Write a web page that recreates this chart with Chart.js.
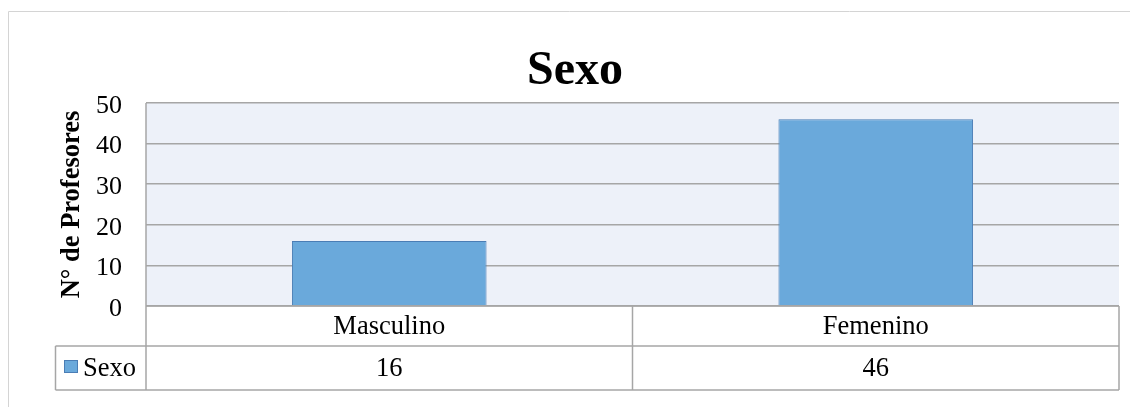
<!DOCTYPE html>
<html>
<head>
<meta charset="utf-8">
<script src="https://cdn.jsdelivr.net/npm/chart.js@4"></script>
<style>
  html, body { margin: 0; padding: 0; background: #fff; }
</style>
</head>
<body>
<canvas id="sexoChart" width="1130" height="407"></canvas>
<script>
// data
const categories = ["Masculino", "Femenino"]
const seriesName = "Sexo"
const seriesValues = [16, 46]
const yMin = 0
const yMax = 50
const yStep = 10
const chartTitle = "Sexo"

const serif = "'Liberation Serif', 'Times New Roman', serif"
const gridGray = "#a6a6a6"

// plot background, outer frame, title and the data table under the bars
const tablePlugin = {
  id: "dataTable",
  beforeDraw(chart) {
    const {ctx, chartArea: a} = chart
    ctx.save()
    ctx.fillStyle = "#edf1f9"
    ctx.fillRect(a.left, a.top, a.right - a.left, a.bottom - a.top)
    // outer frame
    ctx.strokeStyle = "#d4d4d4"
    ctx.lineWidth = 1
    ctx.beginPath()
    ctx.moveTo(8.5, 407)
    ctx.lineTo(8.5, 11.5)
    ctx.lineTo(1130, 11.5)
    ctx.stroke()
    // title, centred on the whole chart box like Excel does
    ctx.fillStyle = "#000"
    ctx.font = "bold 48px " + serif
    ctx.textAlign = "center"
    ctx.textBaseline = "alphabetic"
    ctx.fillText(chartTitle, 575, 84)
    ctx.restore()
  },
  afterDraw(chart) {
    const {ctx, chartArea: a} = chart
    const x = chart.scales.x
    const row1 = a.bottom + 40
    const row2 = row1 + 44
    const legendLeft = 55.5
    ctx.save()
    ctx.strokeStyle = gridGray
    ctx.lineWidth = 1.5
    ctx.beginPath()
    // top of table (axis line)
    ctx.moveTo(a.left, a.bottom); ctx.lineTo(a.right, a.bottom)
    // row lines
    ctx.moveTo(legendLeft, row1); ctx.lineTo(a.right, row1)
    ctx.moveTo(legendLeft, row2); ctx.lineTo(a.right, row2)
    // verticals
    ctx.moveTo(legendLeft, row1); ctx.lineTo(legendLeft, row2)
    ctx.moveTo(a.left, a.top); ctx.lineTo(a.left, row2)
    ctx.moveTo(a.right, a.bottom); ctx.lineTo(a.right, row2)
    for (let i = 0; i < categories.length - 1; i++) {
      const mid = (x.getPixelForValue(i) + x.getPixelForValue(i + 1)) / 2
      ctx.moveTo(mid, a.bottom); ctx.lineTo(mid, row2)
    }
    ctx.stroke()

    ctx.fillStyle = "#000"
    ctx.font = "26.5px " + serif
    ctx.textAlign = "center"
    ctx.textBaseline = "middle"
    categories.forEach((c, i) => {
      const cx = x.getPixelForValue(i)
      ctx.fillText(c, cx, (a.bottom + row1) / 2 + 1)
      ctx.fillText(String(seriesValues[i]), cx, (row1 + row2) / 2 + 1)
    })
    // legend key
    const ds = chart.data.datasets[0]
    ctx.fillStyle = ds.backgroundColor
    ctx.fillRect(64, 360, 14, 13)
    ctx.strokeStyle = ds.borderColor
    ctx.lineWidth = 1
    ctx.strokeRect(64.5, 360.5, 13, 12)
    ctx.fillStyle = "#000"
    ctx.textAlign = "left"
    ctx.fillText(seriesName, 83, (row1 + row2) / 2 + 1)
    ctx.restore()
  }
}

const ctx = document.getElementById("sexoChart").getContext("2d")
new Chart(ctx, {
  type: "bar",
  data: {
    labels: categories,
    datasets: [{
      label: seriesName,
      data: seriesValues,
      backgroundColor: "#6aa9db",
      borderColor: "#4a7db5",
      borderWidth: 1,
      barPercentage: 0.5,
      categoryPercentage: 0.8,
    }],
  },
  options: {
    responsive: false,
    animation: false,
    devicePixelRatio: 1,
    layout: { padding: { left: 0, right: 11, top: 103, bottom: 0 } },
    plugins: {
      legend: { display: false },
      tooltip: { enabled: false },
      title: { display: false },
    },
    scales: {
      x: {
        grid: { display: false },
        border: { display: false },
        ticks: { display: false },
        afterFit: (s) => { s.height = 101 },
      },
      y: {
        min: yMin,
        max: yMax,
        ticks: {
          stepSize: yStep,
          color: "#000",
          padding: 24,
          labelOffset: 3,
          font: { family: serif, size: 26 },
        },
        grid: { color: gridGray, lineWidth: 1.5, drawTicks: false },
        border: { display: false },
        title: {
          display: true,
          text: "N° de Profesores",
          color: "#000",
          font: { family: serif, size: 26.5, weight: "bold" },
          padding: { top: 56, bottom: 0 },
        },
        afterFit: (s) => { s.width = 146 },
      },
    },
  },
  plugins: [tablePlugin],
})
</script>
</body>
</html>
